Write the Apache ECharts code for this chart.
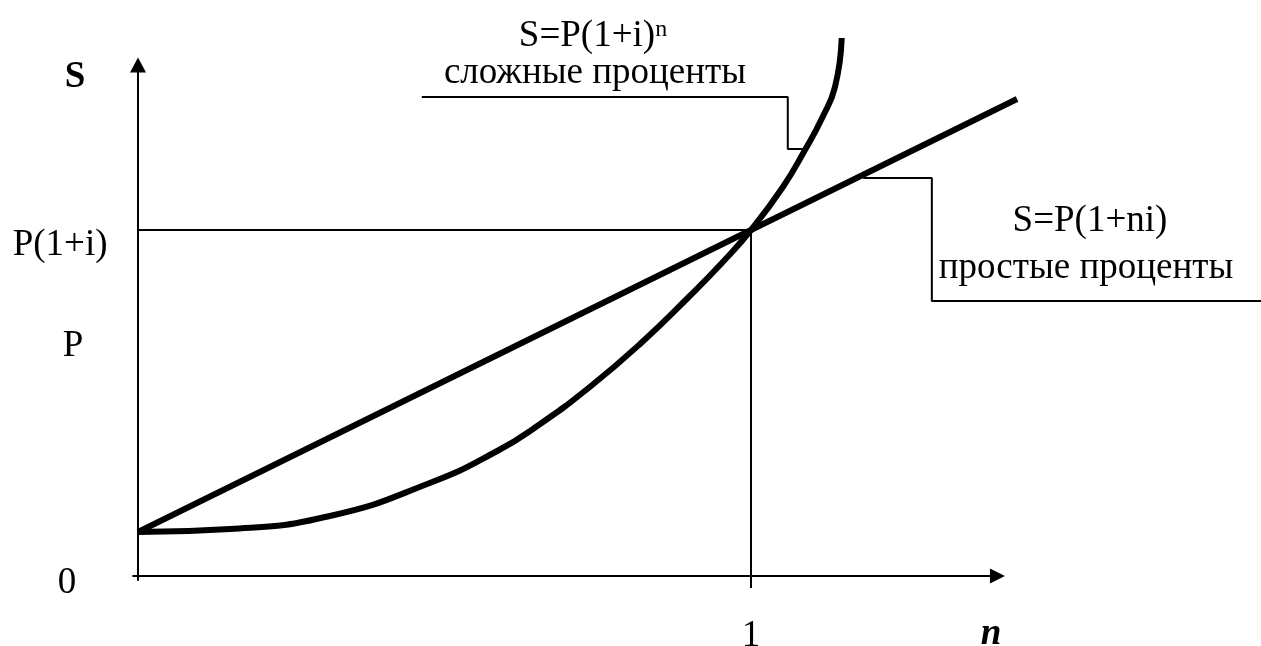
<!DOCTYPE html>
<html>
<head>
<meta charset="utf-8">
<script src="https://cdn.jsdelivr.net/npm/echarts@6/dist/echarts.min.js"></script>
<style>
  html, body { margin: 0; padding: 0; background: #fff; }
  #chart { width: 1261px; height: 646px; }
</style>
</head>
<body>
<div id="chart"></div>
<script>
// tick labels
var nTicks = [1];
var nTickLabels = ['1'];
var sTicks = [0, 2.30, 3.31];
var sTickLabels = ['0', 'P', 'P(1+i)'];

// простые проценты: S = P(1+ni)
var simpleN = [0, 1, 1.434];
var simpleS = [0.44, 3.46, 4.77];

// сложные проценты: S = P(1+i)^n
var compoundN = [0, 0.150, 0.313, 0.476, 0.586, 0.656, 0.737, 0.819, 0.900, 0.954, 1.0, 1.052, 1.088, 1.116, 1.137, 1.148];
var compoundS = [0.44, 0.47, 0.60, 0.93, 1.25, 1.52, 1.89, 2.32, 2.80, 3.14, 3.46, 3.89, 4.26, 4.58, 4.89, 5.38];

// helper lines P(1+i) at n = 1
var guideN = [0, 1, 1];
var guideS = [3.46, 3.46, 0];

// leader lines to the captions
var compoundLeaderN = [0.463, 1.060, 1.060, 1.088];
var compoundLeaderS = [4.79, 4.79, 4.27, 4.27];
var simpleLeaderN = [1.183, 1.295, 1.295, 1.832];
var simpleLeaderS = [3.98, 3.98, 2.75, 2.75];

var FONT = '"Liberation Serif", "Times New Roman", serif';
var FS = 37;

// px per unit along n, so the hidden data grid maps the same as the visible axes
var N_MIN = -0.008, N_MAX = 1.402, N_MAX_DATA = 1.9, PX_N = 613;
var S_MIN = -0.04, S_MAX = 5.11;

function zip(xs, ys) {
  return xs.map(function (x, i) { return [x, ys[i]]; });
}

function lineSeries(xs, ys, width, z) {
  return {
    type: 'line',
    xAxisIndex: 1,
    yAxisIndex: 1,
    data: zip(xs, ys),
    symbol: 'none',
    clip: false,
    silent: true,
    z: z,
    lineStyle: { color: '#000', width: width }
  };
}

var chart = echarts.init(document.getElementById('chart'));
chart.setOption({
  animation: false,
  backgroundColor: '#fff',
  grid: [
    { left: 133.1, top: 65, width: (N_MAX - N_MIN) * PX_N, height: 515, containLabel: false, outerBoundsMode: 'none' },
    { left: 133.1, top: 65, width: (N_MAX_DATA - N_MIN) * PX_N, height: 515, containLabel: false, outerBoundsMode: 'none' }
  ],
  xAxis: [{
    type: 'value',
    gridIndex: 0,
    min: N_MIN,
    max: N_MAX,
    splitLine: { show: false },
    axisLine: {
      onZero: true,
      symbol: ['none', 'triangle'],
      symbolSize: [15, 15],
      lineStyle: { color: '#000', width: 2 }
    },
    axisTick: {
      show: true,
      customValues: nTicks,
      length: 12,
      lineStyle: { color: '#000', width: 2 }
    },
    axisLabel: {
      customValues: nTicks,
      margin: 38,
      color: '#000',
      fontFamily: FONT,
      fontSize: FS,
      formatter: function (v) {
        var i = nTicks.indexOf(v);
        return i >= 0 ? nTickLabels[i] : '';
      }
    }
  }, {
    type: 'value',
    gridIndex: 1,
    min: N_MIN,
    max: N_MAX_DATA,
    show: false
  }],
  yAxis: [{
    type: 'value',
    gridIndex: 0,
    min: S_MIN,
    max: S_MAX,
    splitLine: { show: false },
    axisLine: {
      onZero: true,
      symbol: ['none', 'triangle'],
      symbolSize: [16, 15],
      lineStyle: { color: '#000', width: 2 }
    },
    axisTick: { show: false },
    axisLabel: {
      customValues: sTicks,
      margin: 66,
      align: 'center',
      color: '#000',
      fontFamily: FONT,
      fontSize: FS,
      formatter: function (v) {
        var i = sTicks.indexOf(v);
        return i >= 0 ? '{l' + i + '|' + sTickLabels[i] + '}' : '';
      },
      rich: {
        l0: { padding: [14, 0, 0, 0], fontFamily: FONT, fontSize: FS, color: '#000' },
        l1: { padding: [0, 0, 0, 12], fontFamily: FONT, fontSize: FS, color: '#000' },
        l2: { padding: [0, 14, 0, 0], fontFamily: FONT, fontSize: FS, color: '#000' }
      }
    }
  }, {
    type: 'value',
    gridIndex: 1,
    min: S_MIN,
    max: S_MAX,
    show: false
  }],
  series: [
    lineSeries(guideN, guideS, 2, 2),
    lineSeries(compoundLeaderN, compoundLeaderS, 2, 2),
    lineSeries(simpleLeaderN, simpleLeaderS, 2, 2),
    lineSeries(simpleN, simpleS, 6, 3),
    Object.assign(lineSeries(compoundN, compoundS, 6, 3), { smooth: 0.5 })
  ],
  graphic: [
    {
      type: 'text', x: 75, y: 77,
      style: { text: 'S', fontFamily: FONT, fontSize: FS, fontWeight: 'bold', fill: '#000',
        align: 'center', verticalAlign: 'middle', textAlign: 'center', textVerticalAlign: 'middle' }
    },
    {
      type: 'text', x: 593, y: 36,
      style: {
        text: '{a|S=P(1+i)}{b|n}',
        fill: '#000',
        align: 'center', verticalAlign: 'middle', textAlign: 'center', textVerticalAlign: 'middle',
        rich: {
          a: { fontFamily: FONT, fontSize: FS, fill: '#000' },
          b: { fontFamily: FONT, fontSize: 24, fill: '#000', verticalAlign: 'top' }
        }
      }
    },
    {
      type: 'text', x: 595, y: 73,
      style: { text: 'сложные проценты', fontFamily: FONT, fontSize: FS, fill: '#000',
        align: 'center', verticalAlign: 'middle', textAlign: 'center', textVerticalAlign: 'middle' }
    },
    {
      type: 'text', x: 1090, y: 221,
      style: { text: 'S=P(1+ni)', fontFamily: FONT, fontSize: FS, fill: '#000',
        align: 'center', verticalAlign: 'middle', textAlign: 'center', textVerticalAlign: 'middle' }
    },
    {
      type: 'text', x: 1086, y: 268,
      style: { text: 'простые проценты', fontFamily: FONT, fontSize: FS, fill: '#000',
        align: 'center', verticalAlign: 'middle', textAlign: 'center', textVerticalAlign: 'middle' }
    },
    {
      type: 'text', x: 991, y: 634,
      style: { text: 'n', fontFamily: FONT, fontSize: FS, fontWeight: 'bold', fontStyle: 'italic', fill: '#000',
        align: 'center', verticalAlign: 'middle', textAlign: 'center', textVerticalAlign: 'middle' }
    }
  ]
});
</script>
</body>
</html>
